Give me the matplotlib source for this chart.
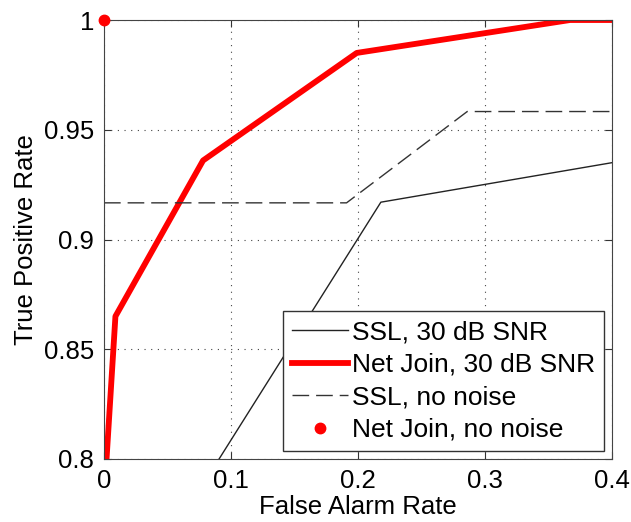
import numpy as np
import matplotlib.pyplot as plt

# ROC data
far_ssl30 = [0.0906, 0.218, 0.4]
tpr_ssl30 = [0.8, 0.917, 0.935]

far_nj30 = [0.002, 0.009, 0.078, 0.199, 0.367, 0.4]
tpr_nj30 = [0.8, 0.865, 0.936, 0.985, 1.0, 1.0]

far_ssl0 = [0.0, 0.191, 0.286, 0.4]
tpr_ssl0 = [0.9167, 0.9167, 0.9583, 0.9583]

far_nj0 = [0.0]
tpr_nj0 = [1.0]

xticks = [0, 0.1, 0.2, 0.3, 0.4]
xticklabels = ['0', '0.1', '0.2', '0.3', '0.4']
yticks = [0.8, 0.85, 0.9, 0.95, 1.0]
yticklabels = ['0.8', '0.85', '0.9', '0.95', '1']

plt.rcParams['font.family'] = ['Liberation Sans', 'DejaVu Sans']
fs = 18.5

fig = plt.figure(figsize=(6.31, 5.22), dpi=100)
ax = fig.add_axes([104/631, 1 - 459/522, (612-104)/631, (459-20)/522])

ax.plot(far_ssl30, tpr_ssl30, '-', color='#222222', lw=1.0, label='SSL, 30 dB SNR')
ax.plot(far_nj30, tpr_nj30, '-', color='red', lw=4.2, label='Net Join, 30 dB SNR')
ax.plot(far_ssl0, tpr_ssl0, '--', color='#333333', lw=1.0, dashes=(12, 5),
        label='SSL, no noise')
ax.plot(far_nj0, tpr_nj0, 'o', color='red', ms=7.5, clip_on=False, zorder=5,
        label='Net Join, no noise')

ax.set_xlim(0, 0.4)
ax.set_ylim(0.8, 1.0)
ax.set_xticks(xticks)
ax.set_xticklabels(xticklabels)
ax.set_yticks(yticks)
ax.set_yticklabels(yticklabels)
ax.tick_params(direction='in', labelsize=fs, length=5, color='#333333',
               top=True, right=True, pad=7)
ax.grid(True, linestyle=(0, (1, 5)), color='#444444', lw=0.8)
for s in ax.spines.values():
    s.set_color('#444444')

ax.set_xlabel('False Alarm Rate', fontsize=fs, labelpad=2)
ax.set_ylabel('True Positive Rate', fontsize=fs, labelpad=4)

leg = ax.legend(loc='lower right', fontsize=19, fancybox=False, framealpha=1,
                edgecolor='#333333', handlelength=2.1, handletextpad=0.15,
                borderaxespad=0.3, labelspacing=0.32, borderpad=0.35)
leg.get_frame().set_linewidth(1.0)

fig.savefig('out.png', dpi=100)
